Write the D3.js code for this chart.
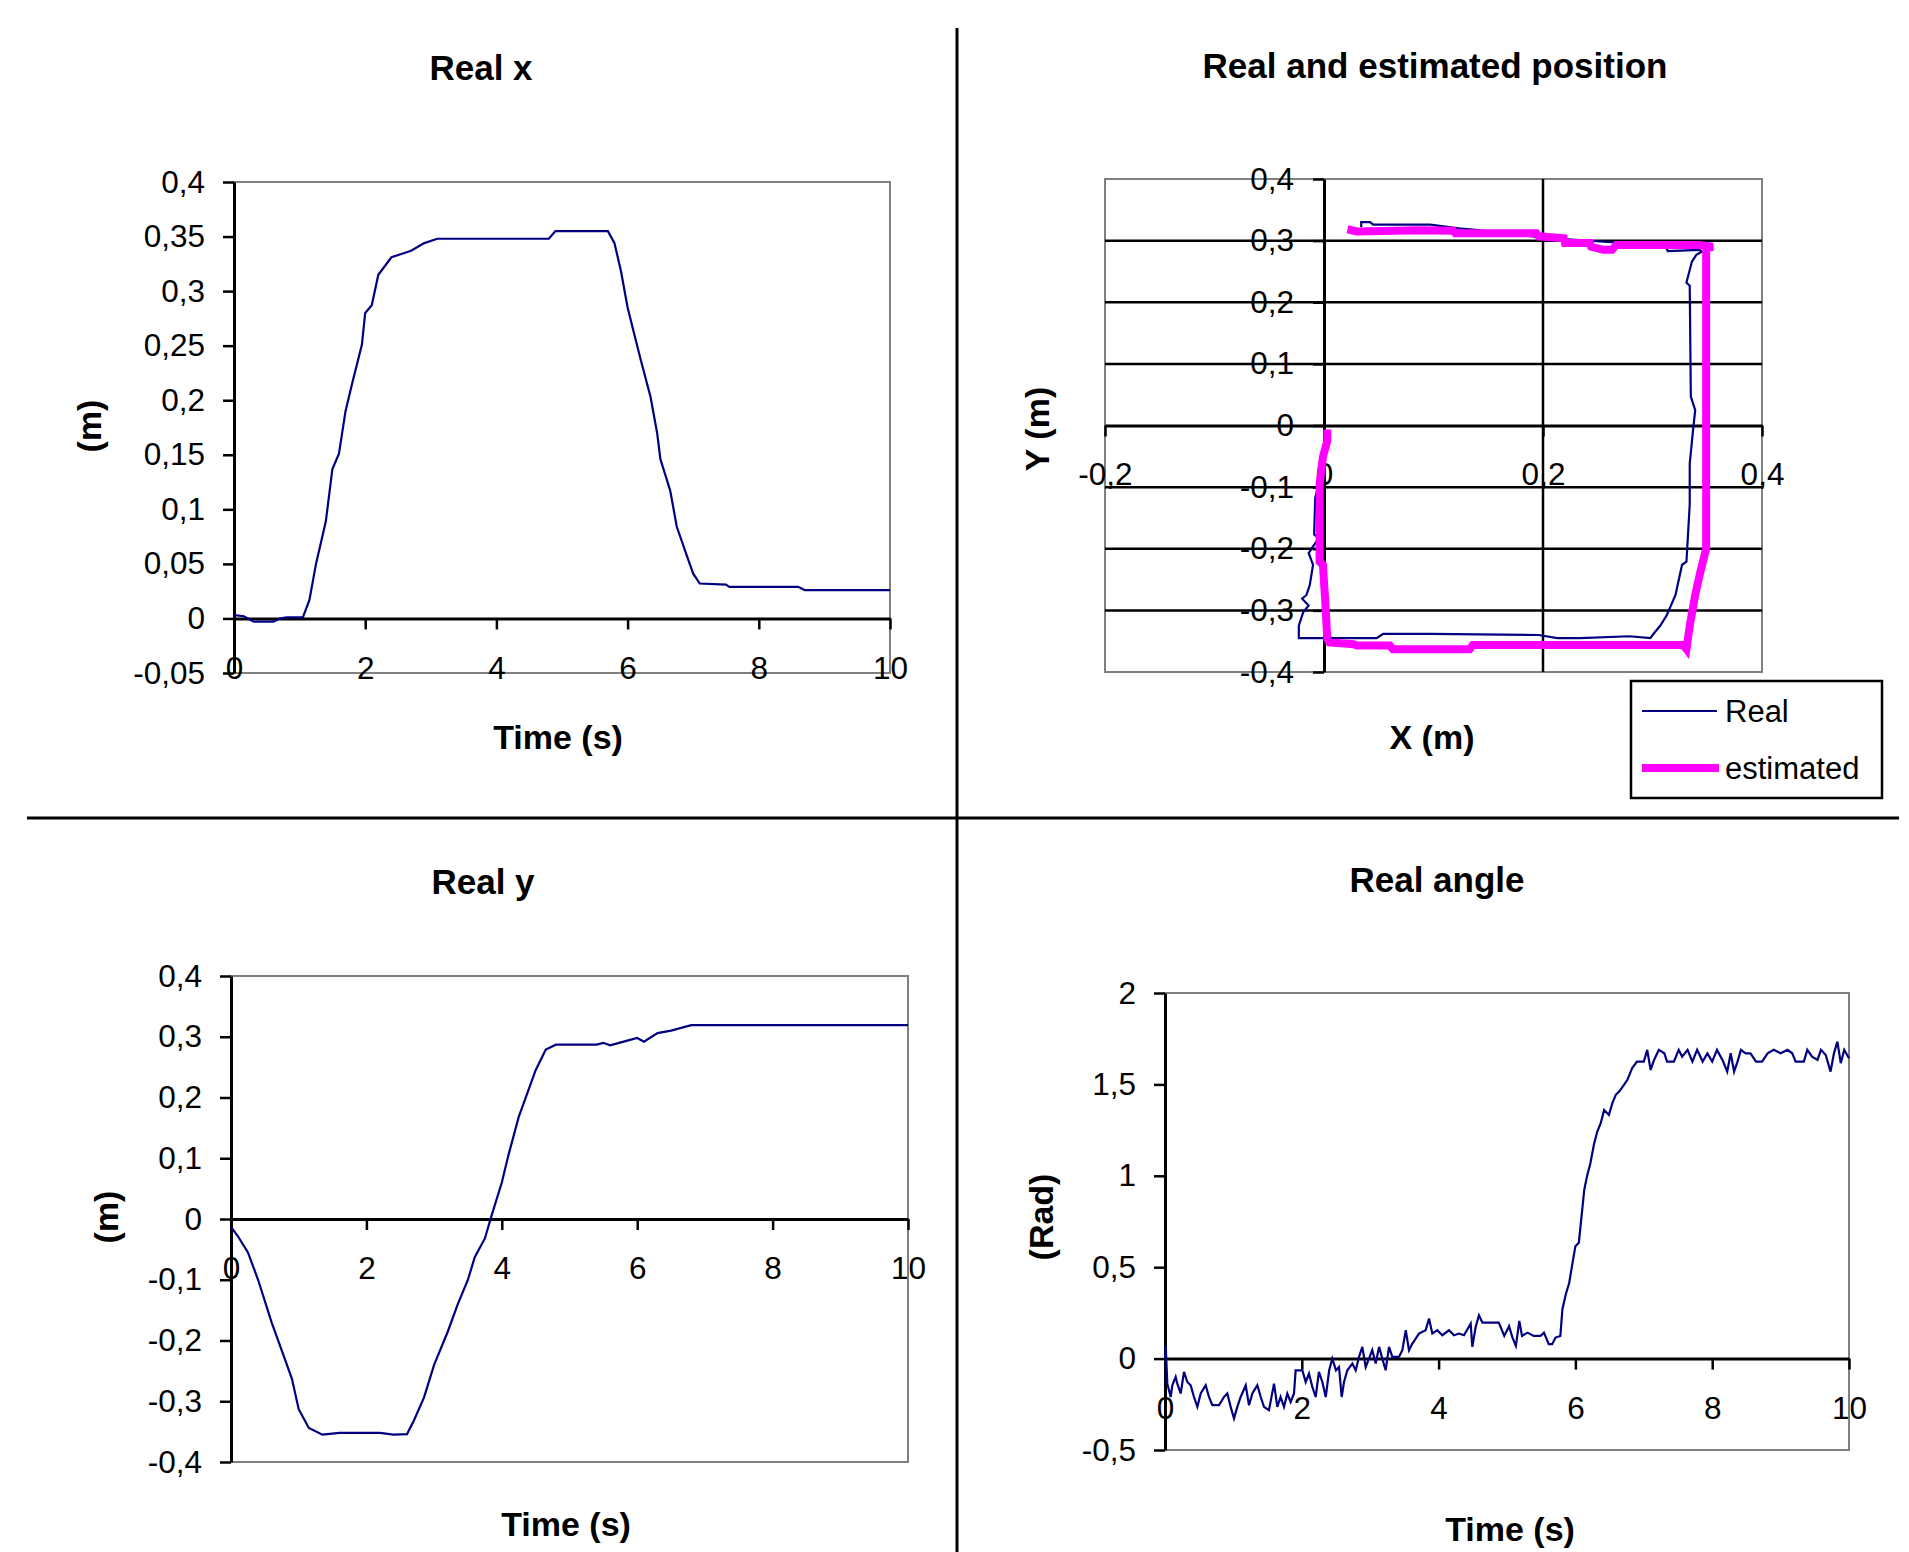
<!DOCTYPE html>
<html>
<head>
<meta charset="utf-8">
<script src="https://cdn.jsdelivr.net/npm/d3@7"></script>
<style>
  body { margin: 0; background: #fff; }
  text { font-family: "Liberation Sans", Arial, sans-serif; fill: #000; }
</style>
</head>
<body>
<svg id="chart" width="1909" height="1552"></svg>
<script>

// Real x (m) against time (s)
var xTime  = [0, 0.15, 0.3, 0.6, 0.7, 0.8, 1.05, 1.15, 1.25, 1.4, 1.5, 1.6, 1.7, 1.8, 1.95, 2.0, 2.1, 2.2, 2.4, 2.7, 2.9, 3.1,
              4.8, 4.9, 5.7, 5.8, 5.9, 6.0, 6.1, 6.2, 6.35, 6.45, 6.5, 6.65, 6.75, 6.9, 7.0, 7.1, 7.5, 7.55, 8.6, 8.7, 10];
var xValue = [0.003, 0.002, -0.003, -0.003, 0, 0.001, 0.001, 0.017, 0.05, 0.089, 0.137, 0.151, 0.19, 0.215, 0.251, 0.28, 0.287, 0.315, 0.331, 0.337, 0.344, 0.348,
              0.348, 0.355, 0.355, 0.344, 0.318, 0.285, 0.261, 0.237, 0.203, 0.17, 0.146, 0.117, 0.084, 0.058, 0.041, 0.032, 0.031, 0.029, 0.029, 0.026, 0.026];

// Real y (m) against time (s)
var yTime  = [0, 0.1, 0.25, 0.4, 0.6, 0.8, 0.9, 1.0, 1.15, 1.35, 1.6, 2.2, 2.4, 2.6, 2.7, 2.85, 3.0, 3.2, 3.35, 3.5, 3.6, 3.75, 3.85,
              4.0, 4.1, 4.25, 4.4, 4.5, 4.65, 4.8, 5.4, 5.5, 5.6, 5.8, 6.0, 6.1, 6.3, 6.5, 6.8, 10];
var yValue = [-0.013, -0.028, -0.055, -0.1, -0.17, -0.232, -0.263, -0.313, -0.344, -0.355, -0.352, -0.352, -0.355, -0.354, -0.332, -0.294, -0.24, -0.186, -0.14, -0.1, -0.063, -0.032, 0.006,
              0.06, 0.106, 0.168, 0.214, 0.245, 0.279, 0.287, 0.287, 0.29, 0.286, 0.292, 0.298, 0.292, 0.306, 0.31, 0.319, 0.319];

// Real angle (rad) against time (s)
var angleTime = [0, 0.01, 0.034, 0.083, 0.107, 0.156, 0.18, 0.229, 0.278, 0.327, 0.375, 0.424, 0.473, 0.522, 0.595, 0.643, 0.692, 0.789, 0.863, 0.911,
                 0.96, 1.009, 1.057, 1.106, 1.18, 1.228, 1.277, 1.35, 1.4, 1.447, 1.52, 1.594, 1.642, 1.69, 1.74, 1.788, 1.837, 1.886, 1.91, 2.008,
                 2.057, 2.105, 2.154, 2.203, 2.25, 2.3, 2.35, 2.4, 2.446, 2.5, 2.544, 2.583, 2.617, 2.666, 2.739, 2.788, 2.836, 2.885, 2.934, 2.982,
                 3.03, 3.08, 3.13, 3.177, 3.226, 3.275, 3.323, 3.42, 3.47, 3.52, 3.567, 3.616, 3.665, 3.713, 3.81, 3.86, 3.908, 3.98, 4.055, 4.152,
                 4.225, 4.298, 4.371, 4.469, 4.493, 4.542, 4.59, 4.64, 4.88, 4.96, 5.03, 5.08, 5.13, 5.18, 5.22, 5.3, 5.39, 5.49, 5.54, 5.61,
                 5.66, 5.71, 5.78, 5.81, 5.86, 5.91, 5.95, 6.0, 6.05, 6.08, 6.13, 6.17, 6.22, 6.27, 6.32, 6.37, 6.42, 6.49, 6.54, 6.59,
                 6.64, 6.71, 6.76, 6.83, 6.9, 7.0, 7.05, 7.1, 7.15, 7.22, 7.3, 7.34, 7.44, 7.51, 7.56, 7.64, 7.71, 7.78, 7.86, 7.93,
                 8.0, 8.07, 8.15, 8.22, 8.27, 8.32, 8.37, 8.42, 8.49, 8.56, 8.64, 8.73, 8.81, 8.9, 9.0, 9.1, 9.17, 9.22, 9.34, 9.39,
                 9.46, 9.54, 9.59, 9.66, 9.73, 9.78, 9.83, 9.88, 9.93, 10];
var angleValue = [0, 0.073, -0.137, -0.21, -0.146, -0.1, -0.137, -0.191, -0.073, -0.128, -0.146, -0.21, -0.264, -0.191, -0.146, -0.21, -0.255, -0.255, -0.21, -0.191,
                  -0.264, -0.328, -0.264, -0.21, -0.146, -0.255, -0.191, -0.146, -0.21, -0.264, -0.282, -0.137, -0.264, -0.21, -0.264, -0.191, -0.237, -0.191, -0.064, -0.064,
                  -0.128, -0.082, -0.155, -0.21, -0.073, -0.128, -0.21, -0.064, 0, -0.064, -0.046, -0.21, -0.128, -0.064, -0.027, -0.064, 0.009, 0.064, -0.046, 0,
                  0.046, -0.027, 0.064, 0, -0.064, 0.064, 0.009, 0.009, 0.046, 0.155, 0.046, 0.082, 0.109, 0.137, 0.155, 0.219, 0.137, 0.155, 0.128, 0.155,
                  0.128, 0.137, 0.128, 0.191, 0.064, 0.173, 0.237, 0.197, 0.197, 0.124, 0.177, 0.115, 0.07, 0.206, 0.124, 0.142, 0.124, 0.124, 0.142, 0.079,
                  0.079, 0.115, 0.124, 0.27, 0.352, 0.415, 0.506, 0.615, 0.634, 0.743, 0.925, 0.998, 1.07, 1.17, 1.242, 1.288, 1.36, 1.333, 1.397, 1.443,
                  1.461, 1.497, 1.525, 1.589, 1.625, 1.625, 1.689, 1.579, 1.634, 1.689, 1.67, 1.625, 1.625, 1.689, 1.652, 1.689, 1.625, 1.689, 1.625, 1.67,
                  1.625, 1.689, 1.634, 1.57, 1.67, 1.57, 1.625, 1.689, 1.67, 1.67, 1.625, 1.625, 1.67, 1.689, 1.67, 1.689, 1.67, 1.625, 1.625, 1.689,
                  1.652, 1.634, 1.689, 1.661, 1.57, 1.67, 1.734, 1.616, 1.689, 1.643];

// Real path in the plane (m)
var realPathX = [0.001, 0, -0.004, -0.008, -0.009, -0.005, -0.011, -0.014, -0.01, -0.013, -0.016, -0.02, -0.014, -0.019, -0.023, -0.023, -0.001, 0.048, 0.054, 0.097,
                 0.196, 0.213, 0.234, 0.279, 0.298, 0.301, 0.307, 0.313, 0.321, 0.327, 0.331, 0.334, 0.334, 0.337, 0.339, 0.335, 0.334, 0.331, 0.336, 0.34,
                 0.345, 0.343, 0.314, 0.312, 0.266, 0.2, 0.141, 0.123, 0.097, 0.045, 0.042, 0.034, 0.034];
var realPathY = [-0.01, -0.05, -0.09, -0.117, -0.177, -0.183, -0.199, -0.207, -0.226, -0.259, -0.275, -0.281, -0.292, -0.303, -0.325, -0.345, -0.345, -0.345, -0.338, -0.338,
                 -0.34, -0.345, -0.345, -0.342, -0.345, -0.338, -0.325, -0.308, -0.275, -0.226, -0.221, -0.128, -0.062, -0.008, 0.025, 0.047, 0.227, 0.232, 0.266, 0.277,
                 0.282, 0.285, 0.283, 0.29, 0.297, 0.305, 0.317, 0.32, 0.326, 0.326, 0.33, 0.33, 0.322];

// Estimated path in the plane (m)
var estPathX = [0.003, 0.003, -0.001, -0.004, -0.004, -0.001, 0.001, 0.003, 0.005, 0.027, 0.03, 0.06, 0.063, 0.088, 0.133, 0.136, 0.328, 0.331, 0.334, 0.339,
                0.343, 0.348, 0.349, 0.349, 0.355, 0.343, 0.267, 0.263, 0.255, 0.244, 0.243, 0.22, 0.219, 0.196, 0.194, 0.12, 0.118, 0.088, 0.03, 0.025];
var estPathY = [-0.013, -0.025, -0.051, -0.095, -0.221, -0.226, -0.281, -0.346, -0.352, -0.355, -0.357, -0.357, -0.363, -0.363, -0.363, -0.356, -0.356, -0.363, -0.325, -0.275,
                -0.243, -0.207, -0.2, 0.287, 0.29, 0.293, 0.293, 0.285, 0.285, 0.29, 0.296, 0.296, 0.304, 0.307, 0.312, 0.312, 0.316, 0.317, 0.315, 0.317];

// Tick values
var timeTicks  = [0, 2, 4, 6, 8, 10];
var xTicks     = [0.4, 0.35, 0.3, 0.25, 0.2, 0.15, 0.1, 0.05, 0, -0.05];
var yTicks     = [0.4, 0.3, 0.2, 0.1, 0, -0.1, -0.2, -0.3, -0.4];
var angleTicks = [2, 1.5, 1, 0.5, 0, -0.5];
var posXTicks  = [-0.2, 0, 0.2, 0.4];
var posYTicks  = [0.4, 0.3, 0.2, 0.1, 0, -0.1, -0.2, -0.3, -0.4];

// decimal comma, like the original spreadsheet
var locale = d3.formatLocale({decimal: ",", thousands: ".", grouping: [3], currency: ["", ""], minus: "-"});
var fmt = locale.format("~g");

var svg = d3.select("#chart");
svg.append("rect").attr("width", 1909).attr("height", 1552).attr("fill", "#fff");

var NAVY = "#000080";

function styleAxis(g, labelOffset, horizontal) {
    g.attr("font-size", null).attr("font-family", null);
    g.select(".domain").attr("stroke", "#000").attr("stroke-width", 3);
    g.selectAll(".tick line").attr("stroke", "#000").attr("stroke-width", 2.5);
    var t = g.selectAll(".tick text").style("font-size", "31.5px");
    if (horizontal) t.attr("y", labelOffset).attr("dy", "0.36em");
}

function addText(txt, x, y, size, bold, rotate) {
    var t = svg.append("text")
        .attr("text-anchor", "middle")
        .attr("dominant-baseline", "central")
        .style("font-size", size + "px")
        .style("font-weight", bold ? "bold" : "normal")
        .text(txt);
    if (rotate) t.attr("transform", "translate(" + x + "," + y + ") rotate(-90)");
    else t.attr("x", x).attr("y", y);
    return t;
}

function drawTimePanel(o) {
    var x = d3.scaleLinear().domain([0, 10]).range([o.left, o.right]);
    var y = d3.scaleLinear().domain(o.yDomain).range([o.bottom, o.top]);

    svg.append("rect")
        .attr("x", o.left).attr("y", o.top)
        .attr("width", o.right - o.left).attr("height", o.bottom - o.top)
        .attr("fill", "none").attr("stroke", "#808080").attr("stroke-width", 2);

    var ya = svg.append("g").attr("transform", "translate(" + o.left + ",0)")
        .call(d3.axisLeft(y).tickValues(o.yTicks).tickSize(11).tickSizeOuter(0).tickPadding(18).tickFormat(fmt));
    styleAxis(ya, 0, false);

    var xa = svg.append("g").attr("transform", "translate(0," + y(0) + ")")
        .call(d3.axisBottom(x).tickValues(timeTicks).tickSize(11).tickSizeOuter(0).tickFormat(fmt));
    styleAxis(xa, 49, true);

    var line = d3.line().x(function(d) { return x(d[0]); }).y(function(d) { return y(d[1]); });
    svg.append("path")
        .datum(d3.zip(o.time, o.values))
        .attr("d", line)
        .attr("fill", "none").attr("stroke", NAVY).attr("stroke-width", 2.2)
        .attr("stroke-linejoin", "miter");

    addText(o.title, o.titleX, o.titleY, 35, true);
    addText(o.yLabel, o.yLabelX, o.yLabelY, 34, true, true);
    addText("Time (s)", o.xLabelX, o.xLabelY, 34, true);
}

// Real x
drawTimePanel({
    left: 234, right: 890, top: 182, bottom: 673,
    yDomain: [-0.05, 0.4], yTicks: xTicks,
    time: xTime, values: xValue,
    title: "Real x", titleX: 481, titleY: 67,
    yLabel: "(m)", yLabelX: 89, yLabelY: 426,
    xLabelX: 558, xLabelY: 737
});

// Real y
drawTimePanel({
    left: 231, right: 908, top: 976, bottom: 1462,
    yDomain: [-0.4, 0.4], yTicks: yTicks,
    time: yTime, values: yValue,
    title: "Real y", titleX: 483, titleY: 881,
    yLabel: "(m)", yLabelX: 106, yLabelY: 1217,
    xLabelX: 566, xLabelY: 1524
});

// Real angle
drawTimePanel({
    left: 1165, right: 1849, top: 993, bottom: 1450,
    yDomain: [-0.5, 2], yTicks: angleTicks,
    time: angleTime, values: angleValue,
    title: "Real angle", titleX: 1437, titleY: 879,
    yLabel: "(Rad)", yLabelX: 1041, yLabelY: 1217,
    xLabelX: 1510, xLabelY: 1529
});

// Real and estimated position
(function() {
    var left = 1105, right = 1762, top = 179, bottom = 672;
    var x = d3.scaleLinear().domain([-0.2, 0.4]).range([left, right]);
    var y = d3.scaleLinear().domain([-0.4, 0.4]).range([bottom, top]);

    svg.append("rect")
        .attr("x", left).attr("y", top)
        .attr("width", right - left).attr("height", bottom - top)
        .attr("fill", "none").attr("stroke", "#808080").attr("stroke-width", 2);

    // major gridlines
    svg.append("g").selectAll("line")
        .data(posYTicks.filter(function(v) { return Math.abs(v) < 0.35 && v !== 0; }))
        .enter().append("line")
        .attr("x1", left).attr("x2", right)
        .attr("y1", function(d) { return y(d); }).attr("y2", function(d) { return y(d); })
        .attr("stroke", "#000").attr("stroke-width", 2.5);
    svg.append("g").selectAll("line")
        .data([0.2])
        .enter().append("line")
        .attr("y1", top).attr("y2", bottom)
        .attr("x1", function(d) { return x(d); }).attr("x2", function(d) { return x(d); })
        .attr("stroke", "#000").attr("stroke-width", 2.5);

    var xa = svg.append("g").attr("transform", "translate(0," + y(0) + ")")
        .call(d3.axisBottom(x).tickValues(posXTicks).tickSize(11).tickSizeOuter(0).tickFormat(fmt));
    styleAxis(xa, 48, true);

    var ya = svg.append("g").attr("transform", "translate(" + x(0) + ",0)")
        .call(d3.axisLeft(y).tickValues(posYTicks).tickSize(11).tickSizeOuter(0).tickPadding(19).tickFormat(fmt));
    styleAxis(ya, 0, false);

    var line = d3.line().x(function(d) { return x(d[0]); }).y(function(d) { return y(d[1]); });
    svg.append("path")
        .datum(d3.zip(realPathX, realPathY))
        .attr("d", line)
        .attr("fill", "none").attr("stroke", NAVY).attr("stroke-width", 2.2);
    svg.append("path")
        .datum(d3.zip(estPathX, estPathY))
        .attr("d", line)
        .attr("fill", "none").attr("stroke", "#ff00ff").attr("stroke-width", 8)
        .attr("stroke-linejoin", "miter").attr("stroke-linecap", "square");

    addText("Real and estimated position", 1435, 65, 35, true);
    addText("Y (m)", 1037, 429, 34, true, true);
    addText("X (m)", 1432, 737, 34, true);

    // legend
    var lg = svg.append("g");
    lg.append("rect").attr("x", 1631).attr("y", 681).attr("width", 251).attr("height", 117)
        .attr("fill", "#fff").attr("stroke", "#000").attr("stroke-width", 2.5);
    lg.append("line").attr("x1", 1642).attr("x2", 1717).attr("y1", 711).attr("y2", 711)
        .attr("stroke", NAVY).attr("stroke-width", 2.2);
    lg.append("line").attr("x1", 1642).attr("x2", 1719).attr("y1", 768).attr("y2", 768)
        .attr("stroke", "#ff00ff").attr("stroke-width", 8);
    lg.append("text").attr("x", 1725).attr("y", 711).attr("dominant-baseline", "central")
        .style("font-size", "31px").text("Real");
    lg.append("text").attr("x", 1725).attr("y", 768).attr("dominant-baseline", "central")
        .style("font-size", "31px").text("estimated");
})();

// panel dividers
svg.append("line").attr("x1", 957).attr("x2", 957).attr("y1", 28).attr("y2", 1552)
    .attr("stroke", "#000").attr("stroke-width", 3);
svg.append("line").attr("x1", 27).attr("x2", 1899).attr("y1", 818).attr("y2", 818)
    .attr("stroke", "#000").attr("stroke-width", 3);

</script>
</body>
</html>
